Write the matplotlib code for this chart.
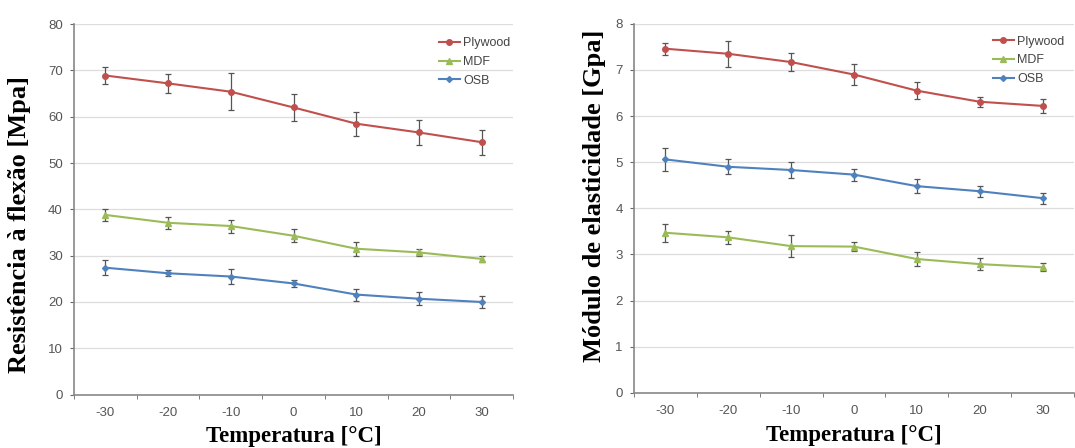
"""
Resistência à flexão e módulo de elasticidade de painéis (Plywood, MDF, OSB)
em função da temperatura.
"""

import matplotlib.pyplot as plt
import numpy as np

plt.rcParams.update({
    'font.family': 'Liberation Sans',
    'font.size': 9.5,
})

temperaturas = ['-30', '-20', '-10', '0', '10', '20', '30']
series = ['Plywood', 'MDF', 'OSB']

# Resistência à flexão [MPa]
mor_plywood = [68.9, 67.2, 65.4, 62.0, 58.5, 56.6, 54.5]
mor_plywood_err = [1.9, 2.0, 4.0, 2.9, 2.6, 2.75, 2.7]
mor_mdf = [38.8, 37.1, 36.4, 34.3, 31.5, 30.7, 29.3]
mor_mdf_err = [1.3, 1.3, 1.4, 1.4, 1.5, 0.7, 0.7]
mor_osb = [27.4, 26.2, 25.5, 24.0, 21.6, 20.7, 20.0]
mor_osb_err = [1.6, 0.6, 1.6, 0.7, 1.3, 1.4, 1.2]

# Módulo de elasticidade [GPa]
moe_plywood = [7.46, 7.35, 7.17, 6.90, 6.55, 6.31, 6.22]
moe_plywood_err = [0.13, 0.28, 0.20, 0.23, 0.18, 0.11, 0.16]
moe_mdf = [3.47, 3.37, 3.18, 3.17, 2.90, 2.79, 2.72]
moe_mdf_err = [0.20, 0.14, 0.24, 0.09, 0.15, 0.13, 0.09]
moe_osb = [5.06, 4.90, 4.83, 4.73, 4.48, 4.37, 4.22]
moe_osb_err = [0.25, 0.16, 0.17, 0.13, 0.15, 0.12, 0.12]

colors = {'Plywood': '#c0504d', 'MDF': '#9bbb59', 'OSB': '#4f81bd'}
markers = {'Plywood': 'o', 'MDF': '^', 'OSB': 'D'}

W, H = 1075, 448
fig = plt.figure(figsize=(W / 100, H / 100), dpi=100)
ax1 = fig.add_axes([74 / W, (H - 394.6) / H, 439 / W, 370.5 / H])
ax2 = fig.add_axes([634 / W, (H - 392.8) / H, 440 / W, 369 / H])


def draw_panel(ax, data, ymax, ylabel, ylabel_pos, leg_pos):
    x = np.arange(len(temperaturas))
    handles = []
    for name, (vals, errs) in zip(series, data):
        c = ax.errorbar(x, vals, yerr=errs, color=colors[name], marker=markers[name],
                        markersize=4 if name != 'OSB' else 3, lw=1.5,
                        ecolor='#555555', elinewidth=0.9, capsize=2, capthick=0.9,
                        zorder=3)
        handles.append(c[0])
    ax.set_xlim(-0.5, len(temperaturas) - 0.5)
    ax.set_ylim(0, ymax)
    ax.set_xticks(x)
    ax.set_xticklabels(temperaturas, color='#555555', fontsize=9.5)
    ax.set_xticks(np.arange(-0.5, len(temperaturas), 1.0), minor=True)
    ax.tick_params(axis='x', which='major', length=0, pad=9)
    ax.tick_params(axis='x', which='minor', length=3, color='#666666', direction='out')
    ax.tick_params(axis='y', length=3, color='#666666', labelcolor='#555555', pad=5)
    ax.grid(axis='y', color='#dddddd', lw=0.9, zorder=0)
    for s in ['top', 'right']:
        ax.spines[s].set_visible(False)
    for s in ['left', 'bottom']:
        ax.spines[s].set_color('#888888')
        ax.spines[s].set_linewidth(1.2)
    ax.set_xlabel('Temperatura [°C]', family='Liberation Serif', fontweight='bold',
                  fontsize=16.5)
    ax.xaxis.set_label_coords(0.5, -0.086)
    ax.set_ylabel(ylabel, family='Liberation Serif', fontweight='bold', fontsize=19)
    ax.yaxis.set_label_coords(*ylabel_pos)
    leg = ax.legend(handles, series, loc='upper left', bbox_to_anchor=leg_pos,
                    frameon=False, fontsize=9, handlelength=1.7,
                    labelspacing=0.55, handletextpad=0.25, borderpad=0,
                    borderaxespad=0)
    for t in leg.get_texts():
        t.set_color('#444444')


draw_panel(ax1, [(mor_plywood, mor_plywood_err), (mor_mdf, mor_mdf_err),
                 (mor_osb, mor_osb_err)], 80, 'Resistência à flexão [Mpa]',
           (-0.098, 0.458), (0.831, 0.965))
ax1.set_yticks(np.arange(0, 81, 10))

draw_panel(ax2, [(moe_plywood, moe_plywood_err), (moe_mdf, moe_mdf_err),
                 (moe_osb, moe_osb_err)], 8, 'Módulo de elasticidade [Gpa]',
           (-0.064, 0.533), (0.815, 0.968))
ax2.set_yticks(np.arange(0, 9, 1))

fig.savefig('out.png', dpi=100, facecolor='white')
